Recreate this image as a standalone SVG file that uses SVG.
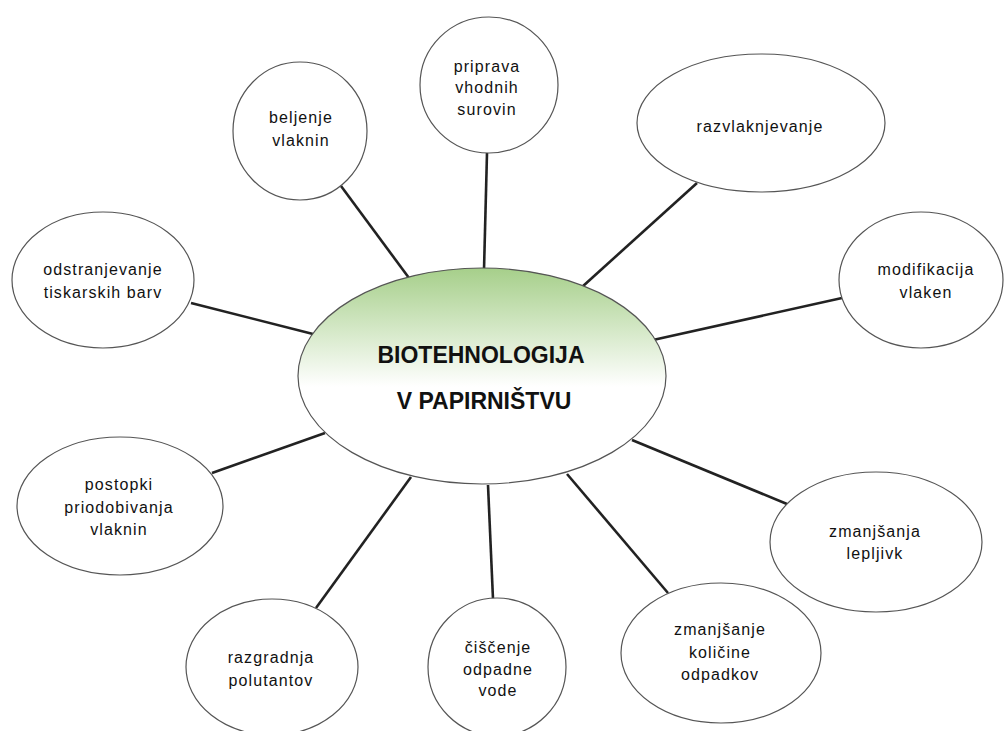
<svg xmlns="http://www.w3.org/2000/svg" width="1004" height="731" viewBox="0 0 1004 731">
<defs>
<linearGradient id="g" x1="0" y1="0" x2="0" y2="1">
<stop offset="0" stop-color="#a6cf8a"/>
<stop offset="0.55" stop-color="#ffffff"/>
<stop offset="1" stop-color="#ffffff"/>
</linearGradient>
<style>
.n{fill:#fff;stroke:#555;stroke-width:1.2}
.c{fill:url(#g);stroke:#555;stroke-width:1.2}
.t{font-family:"Liberation Sans",Arial,sans-serif;font-size:16px;letter-spacing:1.1px;fill:#111;text-anchor:middle}
.h{font-family:"Liberation Sans",Arial,sans-serif;font-size:23px;font-weight:bold;fill:#111;text-anchor:middle}
.l{stroke:#222;stroke-width:2.6;fill:none}
</style>
</defs>
<rect width="1004" height="731" fill="#fff"/>
<g id="connectors">
<line class="l" x1="341" y1="186" x2="409" y2="278"/>
<line class="l" x1="487" y1="153" x2="484" y2="270"/>
<line class="l" x1="697" y1="183" x2="582" y2="287"/>
<line class="l" x1="842" y1="298" x2="653" y2="340"/>
<line class="l" x1="191" y1="303" x2="313" y2="334"/>
<line class="l" x1="212" y1="473" x2="325" y2="433"/>
<line class="l" x1="316" y1="608" x2="411" y2="477"/>
<line class="l" x1="493" y1="599" x2="488" y2="485"/>
<line class="l" x1="668" y1="593" x2="567" y2="474"/>
<line class="l" x1="787" y1="504" x2="632" y2="440"/>
</g>
<g id="center">
<ellipse class="c" cx="482" cy="376" rx="184" ry="108"/>
<text class="h" x="481" y="363">BIOTEHNOLOGIJA</text>
<text class="h" x="484" y="409">V PAPIRNIŠTVU</text>
</g>
<g id="beljenje">
<ellipse class="n" cx="300" cy="131" rx="67" ry="69"/>
<text class="t" x="301" y="123">beljenje</text>
<text class="t" x="301" y="146">vlaknin</text>
</g>
<g id="priprava">
<ellipse class="n" cx="489" cy="85" rx="69" ry="68"/>
<text class="t" x="487" y="72">priprava</text>
<text class="t" x="487" y="93">vhodnih</text>
<text class="t" x="487" y="115">surovin</text>
</g>
<g id="razvlaknjevanje">
<ellipse class="n" cx="761" cy="123" rx="124" ry="69"/>
<text class="t" x="760" y="132">razvlaknjevanje</text>
</g>
<g id="modifikacija">
<ellipse class="n" cx="921" cy="280" rx="82" ry="68"/>
<text class="t" x="926" y="275">modifikacija</text>
<text class="t" x="926" y="298">vlaken</text>
</g>
<g id="odstranjevanje">
<ellipse class="n" cx="103" cy="280" rx="91" ry="68"/>
<text class="t" x="103" y="275">odstranjevanje</text>
<text class="t" x="103" y="298">tiskarskih barv</text>
</g>
<g id="postopki">
<ellipse class="n" cx="120" cy="506" rx="103" ry="69"/>
<text class="t" x="119" y="490">postopki</text>
<text class="t" x="119" y="513">priodobivanja</text>
<text class="t" x="119" y="535">vlaknin</text>
</g>
<g id="razgradnja">
<ellipse class="n" cx="272" cy="667" rx="86" ry="68"/>
<text class="t" x="271" y="663">razgradnja</text>
<text class="t" x="271" y="686">polutantov</text>
</g>
<g id="ciscenje">
<ellipse class="n" cx="497" cy="667" rx="69" ry="69"/>
<text class="t" x="498" y="653">čiščenje</text>
<text class="t" x="498" y="675">odpadne</text>
<text class="t" x="498" y="696">vode</text>
</g>
<g id="kolicine">
<ellipse class="n" cx="721" cy="653" rx="100" ry="70"/>
<text class="t" x="720" y="635">zmanjšanje</text>
<text class="t" x="720" y="658">količine</text>
<text class="t" x="720" y="680">odpadkov</text>
</g>
<g id="lepljivk">
<ellipse class="n" cx="876" cy="542" rx="106" ry="70"/>
<text class="t" x="875" y="537">zmanjšanja</text>
<text class="t" x="875" y="559">lepljivk</text>
</g>
</svg>
